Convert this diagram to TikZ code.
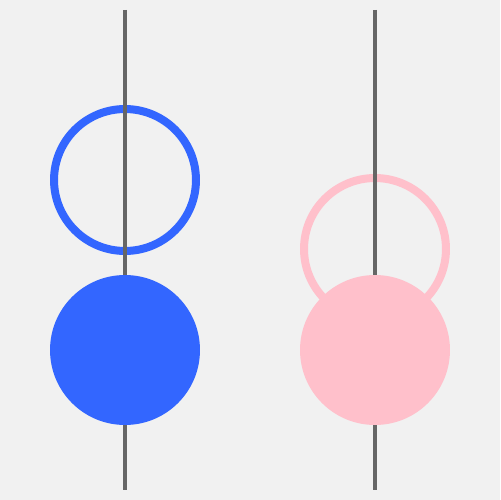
\documentclass[tikz,border=0pt]{standalone}
\usepackage{xcolor}
\usetikzlibrary{positioning}
\definecolor{bgGray}{HTML}{F1F1F1}
\definecolor{rodGray}{HTML}{666666}
\definecolor{ballBlue}{HTML}{3366FF}
\definecolor{ballPink}{HTML}{FFC0CB}

\begin{document}
\begin{tikzpicture}[x=0.02cm, y=-0.02cm,
   ring/.style={circle, draw, line width=0.16cm, minimum size=2.84cm, inner sep=0pt},
   ball/.style={circle, minimum size=3cm, inner sep=0pt},
   rod/.style={rodGray, line width=0.08cm}]
   \fill[bgGray] (0,0) rectangle (500,500);
   \useasboundingbox (0,0) rectangle (500,500);

   % rings (old positions)
   \node[ring, draw=ballBlue] (ringL) at (125,180) {};
   \node[ring, draw=ballPink] (ringR) at (375,249) {};

   % rods
   \coordinate (topL) at (125,10);
   \coordinate (botL) at (125,490);
   \coordinate (topR) at (375,10);
   \coordinate (botR) at (375,490);
   \draw[rod] (topL) -- (botL);
   \draw[rod] (topR) -- (botR);

   % balls (new positions)
   \node[ball, fill=ballBlue] (ballL) at (125,350) {};
   \node[ball, fill=ballPink] (ballR) at (375,350) {};
\end{tikzpicture}
\end{document}
